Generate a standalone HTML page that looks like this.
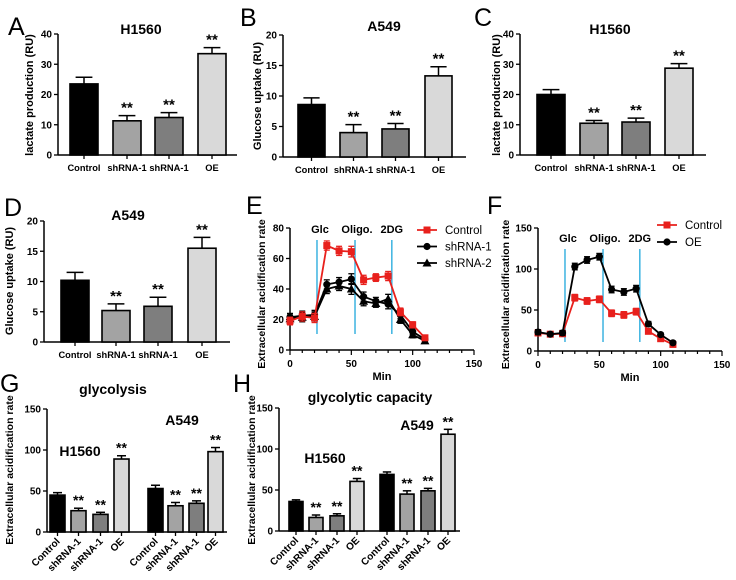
<!DOCTYPE html>
<html><head><meta charset="utf-8">
<style>
html,body{margin:0;padding:0;background:#fff;}
svg{display:block;font-family:"Liberation Sans",Arial,sans-serif;}
</style></head>
<body>
<svg id="fig" width="736" height="580" viewBox="0 0 736 580" xmlns="http://www.w3.org/2000/svg">
<text x="8" y="35" font-size="25">A</text>
<text x="240" y="26" font-size="25">B</text>
<text x="474" y="26" font-size="25">C</text>
<text x="4" y="216" font-size="25">D</text>
<text x="246" y="214" font-size="25">E</text>
<text x="487" y="214" font-size="25">F</text>
<text x="0" y="392" font-size="25">G</text>
<text x="233" y="392" font-size="25">H</text>
</svg>
<script>
// ---- data ----
const barCats = ["Control","shRNA-1","shRNA-1","OE"];
const aVals = [23.5, 11.3, 12.4, 33.5];
const aErrs = [2.2, 1.7, 1.6, 2.0];
const bVals = [8.6, 4.0, 4.6, 13.3];
const bErrs = [1.1, 1.3, 0.9, 1.5];
const cVals = [20.0, 10.5, 10.9, 28.7];
const cErrs = [1.6, 0.9, 1.3, 1.5];
const dVals = [10.2, 5.2, 5.9, 15.5];
const dErrs = [1.3, 1.1, 1.5, 1.8];
const barStars = [false, true, true, true];
const ticks40 = [0,10,20,30,40];
const ticks20 = [0,5,10,15,20];
const ticks150 = [0,50,100,150];
const ticks80 = [0,20,40,60,80];
const timeMin = [0,10,20,30,40,50,60,70,80,90,100,110];
const eControl = [19,22,21,68.5,65,64.5,46,47.5,48.5,25,16.5,8];
const eSh1 = [21.5,22.5,23,43,44.5,46.5,35,32,30,23,12,7];
const eSh2 = [20.5,21.5,22,40,42,40,32,30.5,33.5,20,10,6];
const eErr = [2.5,3,3,3,3,3.5,3,2.5,3,2.5,2,1.5];
const fControl = [22,20.5,21,65,61,63,46,44,48,24,15,8];
const fOE = [23,20.5,22,103,111,115,75,72,76,33,20,10];
const fErr = [3,2,3,4,4,4,4,4,4,3,2,2];
const injTimes = [22,53,83];
const injLabels = ["Glc","Oligo.","2DG"];
const gVals = [45,26,21.5,89, 53,32,35,98];
const gErrs = [3,3,2.5,4, 4,4,3,5];
const hVals = [36,16.5,18.5,60.5, 69,45,49,118];
const hErrs = [2,3,2.5,3.5, 3,4,3,6];
const ghStars = [false,true,true,true, false,true,true,true];
const ghCats = ["Control","shRNA-1","shRNA-1","OE","Control","shRNA-1","shRNA-1","OE"];

// ---- drawing ----
const NS = "http://www.w3.org/2000/svg";
const svg = document.getElementById('fig');
const barColors = ["#000000","#a3a3a3","#7e7e7e","#d9d9d9"];
function mk(tag, attrs, parent, text){
  const e = document.createElementNS(NS, tag);
  for (const k in attrs) e.setAttribute(k, attrs[k]);
  if (text !== undefined) e.textContent = text;
  (parent||svg).appendChild(e);
  return e;
}
function yAxis(g, x0, yScale, ticks, top, bottom){
  const ax = mk('line',{x1:x0,x2:x0,y1:top,y2:bottom,stroke:'#000','stroke-width':1.5},g);
  
  
  ticks.forEach(t=>{
    const y = yScale(t);
    mk('line',{x1:x0-4,x2:x0,y1:y,y2:y,stroke:'#000','stroke-width':1.3},g);
    const tl = mk('text',{x:x0-6,y:y+3.5,'font-size':10,'font-weight':'bold','text-anchor':'end'},g,String(t));
    
    
  });
}
function yTitle(g, x, y, txt, fs){
  const t = mk('text',{x:x,y:y,'font-size':fs||11,'font-weight':'bold','text-anchor':'middle',transform:`rotate(-90 ${x} ${y})`},g,txt);
  
  
}
function barPanel(name, cfg, vals, errs, stars, cats, ticks, colors, rotated){
  const g = mk('g',{});
  
  
  const ymax = ticks[ticks.length-1];
  const yS = v => cfg.y0 - (cfg.y0-cfg.yTop)*v/ymax;
  yAxis(g, cfg.x0, yS, ticks, cfg.yTop, cfg.y0);
  const xa = mk('line',{x1:cfg.x0,x2:cfg.xEnd,y1:cfg.y0,y2:cfg.y0,stroke:'#000','stroke-width':1.5},g);
  
  
  vals.forEach((v,i)=>{
    const bx = cfg.lefts[i], w = cfg.bw, cx = bx + w/2;
    const top = yS(v), et = yS(v+errs[i]);
    const el = mk('line',{x1:cx,x2:cx,y1:top,y2:et,stroke:'#000','stroke-width':1.5},g);
    
    
    mk('line',{x1:cx-w*0.3,x2:cx+w*0.3,y1:et,y2:et,stroke:'#000','stroke-width':1.5},g);
    const r = mk('rect',{x:bx,y:top,width:w,height:cfg.y0-top,fill:colors[i%4],stroke:'#000','stroke-width':1.6},g);
    
    
    mk('line',{x1:cx,x2:cx,y1:cfg.y0,y2:cfg.y0+4,stroke:'#000','stroke-width':1.3},g);
    if (stars[i]){
      const s = mk('text',{x:cx,y:et-3,'font-size':cfg.starFs||15,'font-weight':'bold','text-anchor':'middle'},g,'**');
      
      
    }
    let lab;
    if (rotated){
      const lx = cx+3, ly = cfg.y0+10;
      lab = mk('text',{x:lx,y:ly,'font-size':10,'font-weight':'bold','text-anchor':'end',transform:`rotate(-45 ${lx} ${ly})`},g,cats[i]);
    } else {
      lab = mk('text',{x:cx,y:cfg.y0+16,'font-size':9.3,'font-weight':'bold','text-anchor':'middle'},g,cats[i]);
    }
    
    
  });
  return g;
}
function title(g, x, y, txt, fs){
  const t = mk('text',{x:x,y:y,'font-size':fs||14,'font-weight':'bold','text-anchor':'middle'},g,txt);
  
  
}

// A
let gA = barPanel('panel-a-h1560-lactate',{x0:58,xEnd:237,y0:155,yTop:34,bw:28,lefts:[70,113,155,198]},aVals,aErrs,barStars,barCats,ticks40,barColors,false);
title(gA,141,34,'H1560'); yTitle(gA,33,95,'lactate production (RU)');
// B
let gB = barPanel('panel-b-a549-glucose',{x0:283,xEnd:466,y0:157,yTop:35,bw:27,lefts:[298,340,382,425]},bVals,bErrs,barStars,barCats,ticks20,barColors,false);
title(gB,384,31,'A549'); yTitle(gB,261,96,'Glucose uptake (RU)');
// C
let gC = barPanel('panel-c-h1560-lactate',{x0:520,xEnd:706,y0:155,yTop:34,bw:28,lefts:[537,580,622,665]},cVals,cErrs,barStars,barCats,ticks40,barColors,false);
title(gC,610,34,'H1560'); yTitle(gC,500,95,'lactate production (RU)');
// D
let gD = barPanel('panel-d-a549-glucose',{x0:44,xEnd:230,y0:342,yTop:221,bw:28,lefts:[61,102,144,188]},dVals,dErrs,barStars,barCats,ticks20,barColors,false);
title(gD,128,220,'A549'); yTitle(gD,13,281,'Glucose uptake (RU)');
// G
let gG = barPanel('panel-g-glycolysis',{x0:47,xEnd:227,y0:532,yTop:409,bw:15,lefts:[50,71,93,114,148,168,189,208],starFs:14},gVals,gErrs,ghStars,ghCats,[0,50,100,150],barColors,true);
title(gG,113,394,'glycolysis');
yTitle(gG,13,470,'Extracellular acidification rate',10.5);
let t1 = mk('text',{x:80,y:456,'font-size':14,'font-weight':'bold','text-anchor':'middle'},gG,'H1560');  
let t2 = mk('text',{x:182,y:425,'font-size':14,'font-weight':'bold','text-anchor':'middle'},gG,'A549');  
// H
let gH = barPanel('panel-h-glycolytic-capacity',{x0:279,xEnd:460,y0:531,yTop:408,bw:14,lefts:[289,309,330,350,380,400,421,441],starFs:14},hVals,hErrs,ghStars,ghCats,[0,50,100,150],barColors,true);
title(gH,370,402,'glycolytic capacity');
yTitle(gH,255,470,'Extracellular acidification rate',10.5);
let t3 = mk('text',{x:325,y:463,'font-size':14,'font-weight':'bold','text-anchor':'middle'},gH,'H1560');  
let t4 = mk('text',{x:417,y:430,'font-size':14,'font-weight':'bold','text-anchor':'middle'},gH,'A549');  

// line panels
function linePanel(name, cfg, series, yTicks){
  const g = mk('g',{});
  
  
  const ymax = yTicks[yTicks.length-1];
  const xS = t => cfg.x0 + (cfg.xEnd-cfg.x0)*t/150;
  const yS = v => cfg.y0 - (cfg.y0-cfg.yTop)*v/ymax;
  yAxis(g, cfg.x0, yS, yTicks, cfg.yTop, cfg.y0);
  const xa = mk('line',{x1:cfg.x0,x2:cfg.xEnd,y1:cfg.y0,y2:cfg.y0,stroke:'#000','stroke-width':1.5},g);
  
  
  for (let t=0;t<=150;t+=10){
    const major = ticks150.includes(t);
    mk('line',{x1:xS(t),x2:xS(t),y1:cfg.y0,y2:cfg.y0+(major?5:3),stroke:'#000','stroke-width':1.2},g);
  }
  ticks150.forEach(t=>{
    const l = mk('text',{x:xS(t),y:cfg.y0+17,'font-size':10,'font-weight':'bold','text-anchor':'middle'},g,String(t));
    
    
  });
  const xt = mk('text',{x:(cfg.x0+cfg.xEnd)/2,y:cfg.y0+30,'font-size':11,'font-weight':'bold','text-anchor':'middle'},g,'Min');
  
  
  yTitle(g, cfg.yTitleX, (cfg.y0+cfg.yTop)/2+5, 'Extracellular acidification rate', 10.5);
  injTimes.forEach((t,i)=>{
    const l = mk('line',{x1:xS(t),x2:xS(t),y1:cfg.lineTop,y2:cfg.lineBot,stroke:'#3cb3e0','stroke-width':1.5},g);
    
    
    const tx = mk('text',{x:xS(t)+(i==0?3:i==1?2:0),y:cfg.labY,'font-size':11,'font-weight':'bold','text-anchor':'middle'},g,injLabels[i]);
    
    
  });
  series.forEach((s)=>{
    const pts = timeMin.map((t,i)=>xS(t)+','+yS(s.vals[i])).join(' ');
    s.vals.forEach((v,i)=>{
      const x = xS(timeMin[i]);
      mk('line',{x1:x,x2:x,y1:yS(v-s.err[i]),y2:yS(v+s.err[i]),stroke:s.color,'stroke-width':1.3},g);
      mk('line',{x1:x-3,x2:x+3,y1:yS(v-s.err[i]),y2:yS(v-s.err[i]),stroke:s.color,'stroke-width':1.3},g);
      mk('line',{x1:x-3,x2:x+3,y1:yS(v+s.err[i]),y2:yS(v+s.err[i]),stroke:s.color,'stroke-width':1.3},g);
    });
    const pl = mk('polyline',{points:pts,fill:'none',stroke:s.color,'stroke-width':1.8},g);
    
    
    s.vals.forEach((v,i)=>{
      const x = xS(timeMin[i]), y = yS(v);
      let m = marker(g, s.shape, x, y, s.color);
      
      
    });
    // legend
    const ly = cfg.legY + s.leg*cfg.legDy;
    const ll = mk('line',{x1:cfg.legX-10,x2:cfg.legX+10,y1:ly,y2:ly,stroke:s.color,'stroke-width':1.8},g);
    
    
    let lm = marker(g, s.shape, cfg.legX, ly, s.color);
    
    
    const lt = mk('text',{x:cfg.legX+18,y:ly+4,'font-size':11.5},g,s.label);
    
    
  });
}
function marker(g, shape, x, y, c){
  if (shape==='sq') return mk('rect',{x:x-3.5,y:y-3.5,width:7,height:7,fill:c},g);
  if (shape==='tri') return mk('polygon',{points:`${x},${y-4.5} ${x-4.5},${y+3.5} ${x+4.5},${y+3.5}`,fill:c},g);
  return mk('circle',{cx:x,cy:y,r:3.6,fill:c},g);
}
linePanel('panel-e-ecar-knockdown',{x0:290,xEnd:474,y0:350,yTop:228,lineTop:240,lineBot:334,labY:233,legX:427,legY:230,legDy:16.5,yTitleX:265},
  [{key:'shrna-2',label:'shRNA-2',vals:eSh2,err:eErr,color:'#000',shape:'tri',leg:2},
   {key:'shrna-1',label:'shRNA-1',vals:eSh1,err:eErr,color:'#000',shape:'dot',leg:1},
   {key:'control',label:'Control',vals:eControl,err:eErr,color:'#e8201c',shape:'sq',leg:0}], ticks80);
linePanel('panel-f-ecar-overexpression',{x0:538,xEnd:722,y0:351,yTop:228,lineTop:249,lineBot:342,labY:242,legX:667,legY:225,legDy:17,yTitleX:509},
  [{key:'control',label:'Control',vals:fControl,err:fErr,color:'#e8201c',shape:'sq',leg:0},
   {key:'oe',label:'OE',vals:fOE,err:fErr,color:'#000',shape:'dot',leg:1}], [0,50,100,150]);
</script>
</body></html>
